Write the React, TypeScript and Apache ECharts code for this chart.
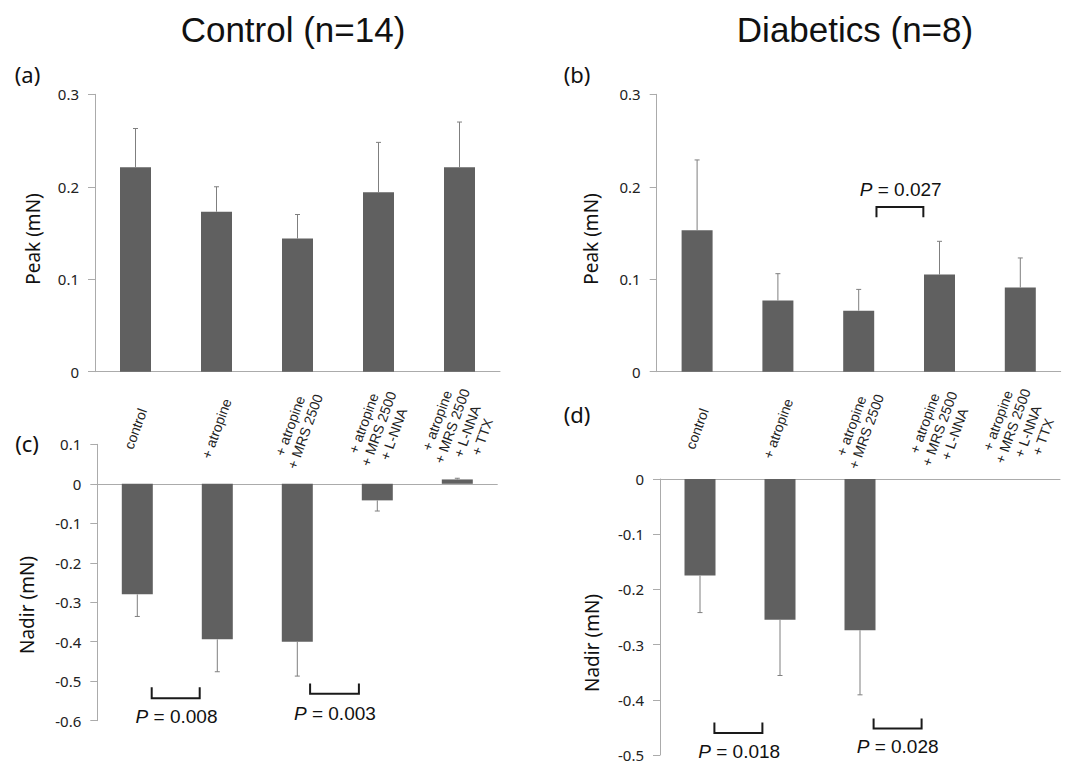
import React, { useEffect, useRef } from 'react';
import * as echarts from 'echarts';

// ---- data ----
const categories = [
  'control',
  '+ atropine',
  '+ atropine\n+ MRS 2500',
  '+ atropine\n+ MRS 2500\n+ L-NNA',
  '+ atropine\n+ MRS 2500\n+ L-NNA\n+ TTX',
];

const controlPeak = [0.221, 0.173, 0.144, 0.194, 0.221];
const controlPeakErr = [0.042, 0.027, 0.026, 0.054, 0.049];
const diabeticPeak = [0.153, 0.077, 0.066, 0.105, 0.091];
const diabeticPeakErr = [0.076, 0.029, 0.023, 0.036, 0.032];
const controlNadir = [-0.28, -0.394, -0.4, -0.042, 0.011];
const controlNadirErr = [0.056, 0.082, 0.087, 0.027, 0.003];
const diabeticNadir: (number | null)[] = [-0.175, -0.255, -0.274, null, null];
const diabeticNadirErr: (number | null)[] = [0.067, 0.101, 0.117, null, null];

const peakAxis = { min: 0, max: 0.3, interval: 0.1 };
const controlNadirAxis = { min: -0.6, max: 0.1, interval: 0.1 };
const diabeticNadirAxis = { min: -0.5, max: 0, interval: 0.1 };

// significance brackets: [anchor category, bracket line value, tip value, from offset, to offset, label offset, label value]
// offsets are in category-band units measured from the anchor category's centre
const diabeticPeakBrackets = [[2, 0.178, 0.167, 0.22, 0.8, 0.52, 0.1975]];
const diabeticPeakP = ['0.027'];
const controlNadirBrackets = [
  [0, -0.543, -0.515, 0.18, 0.78, 0.49, -0.589],
  [2, -0.532, -0.506, 0.16, 0.77, 0.47, -0.581],
];
const controlNadirP = ['0.008', '0.003'];
const diabeticNadirBrackets = [
  [0, -0.46, -0.441, 0.18, 0.78, 0.49, -0.494],
  [2, -0.452, -0.434, 0.17, 0.77, 0.47, -0.485],
];
const diabeticNadirP = ['0.018', '0.028'];

const BAR = '#606060';
const AXIS = '#ababab';
const ERR = '#7f7f7f';
const SANS = 'Noto Sans';
const ARIAL = 'Liberation Sans, Arial, sans-serif';

function errSeries(idx: number, means: (number | null)[], errs: (number | null)[]) {
  const data = means
    .map((m, i) => (m == null || errs[i] == null ? null : [i, m, errs[i]]))
    .filter((d) => d != null);
  return {
    type: 'custom',
    xAxisIndex: idx,
    yAxisIndex: idx,
    z: 5,
    encode: { x: 0, y: 1 },
    data,
    renderItem: (params: any, api: any) => {
      const i = api.value(0);
      const m = api.value(1);
      const e = api.value(2);
      const sign = m >= 0 ? 1 : -1;
      const p0 = api.coord([i, m]);
      const p1 = api.coord([i, m + sign * e]);
      const style = { stroke: ERR, lineWidth: 1 };
      return {
        type: 'group',
        children: [
          { type: 'line', shape: { x1: p0[0], y1: p0[1], x2: p1[0], y2: p1[1] }, style },
          { type: 'line', shape: { x1: p1[0] - 2.5, y1: p1[1], x2: p1[0] + 2.5, y2: p1[1] }, style },
        ],
      };
    },
  };
}

function bracketSeries(idx: number, brackets: number[][], pvals: string[]) {
  return {
    type: 'custom',
    xAxisIndex: idx,
    yAxisIndex: idx,
    z: 6,
    encode: { x: 0, y: 1 },
    data: brackets,
    renderItem: (params: any, api: any) => {
      const c = api.value(0);
      const yb = api.value(1);
      const yt = api.value(2);
      const f0 = api.value(3);
      const f1 = api.value(4);
      const lf = api.value(5);
      const ly = api.value(6);
      const bw = api.size([1, 0])[0];
      const pb = api.coord([c, yb]);
      const pt = api.coord([c, yt]);
      const pl = api.coord([c, ly]);
      const center = pb[0];
      const xa = center + f0 * bw;
      const xb = center + f1 * bw;
      const style = { stroke: '#1a1a1a', lineWidth: 2, fill: 'none' };
      return {
        type: 'group',
        children: [
          {
            type: 'polyline',
            shape: { points: [[xa, pt[1]], [xa, pb[1]], [xb, pb[1]], [xb, pt[1]]] },
            style,
          },
          {
            type: 'text',
            x: center + lf * bw,
            y: pl[1],
            style: {
              text: '{i|P} = ' + pvals[params.dataIndex],
              fill: '#111',
              fontFamily: ARIAL,
              fontSize: 19,
              align: 'center',
              verticalAlign: 'middle',
              rich: {
                i: { fontStyle: 'italic', fontFamily: ARIAL, fontSize: 19, fill: '#111' },
              },
            },
          },
        ],
      };
    },
  };
}

function barSeries(idx: number, data: (number | null)[]) {
  return {
    type: 'bar',
    xAxisIndex: idx,
    yAxisIndex: idx,
    barWidth: 31,
    data,
    itemStyle: { color: BAR },
    z: 2,
  };
}

function yAxis(grid: number, ax: { min: number; max: number; interval: number }) {
  return {
    type: 'value',
    gridIndex: grid,
    min: ax.min,
    max: ax.max,
    interval: ax.interval,
    axisLine: { show: true, lineStyle: { color: AXIS, width: 1 } },
    axisTick: { show: true, length: 7, lineStyle: { color: AXIS } },
    splitLine: { show: false },
    axisLabel: {
      color: '#222',
      fontFamily: SANS,
      fontSize: 15,
      lineHeight: 11,
      margin: 16,
      formatter: (v: number) => String(Math.round(v * 10) / 10),
    },
  };
}

function xAxis(grid: number, showLabels: boolean) {
  return {
    type: 'category',
    gridIndex: grid,
    data: categories,
    axisLine: { show: true, onZero: true, lineStyle: { color: AXIS, width: 1 } },
    axisTick: { show: false },
    axisLabel: showLabels
      ? {
          show: true,
          interval: 0,
          rotate: 70,
          align: 'center',
          verticalAlign: 'middle',
          margin: 57,
          color: '#222',
          fontFamily: ARIAL,
          fontSize: 14,
          lineHeight: 16,
        }
      : { show: false },
  };
}

function label(text: string, x: number, y: number, size: number, family: string, rotation = 0) {
  return {
    type: 'text',
    x,
    y,
    rotation,
    style: {
      text,
      fill: '#111',
      fontFamily: family,
      fontSize: size,
      align: 'center',
      verticalAlign: 'middle',
    },
  };
}

export default function App() {
  const ref = useRef<HTMLDivElement>(null);
  useEffect(() => {
    if (!ref.current) return;
    const chart = echarts.init(ref.current, null, { renderer: 'svg' });
    const option: any = {
      animation: false,
      backgroundColor: '#fff',
      grid: [
        { left: 95, top: 94.3, width: 405, height: 277.4, containLabel: false, outerBoundsMode: 'none' },
        { left: 656.7, top: 94.3, width: 404, height: 277.4, containLabel: false, outerBoundsMode: 'none' },
        { left: 97.3, top: 444.3, width: 400, height: 276.4, containLabel: false, outerBoundsMode: 'none' },
        { left: 660, top: 479, width: 400, height: 276, containLabel: false, outerBoundsMode: 'none' },
      ],
      xAxis: [xAxis(0, true), xAxis(1, true), xAxis(2, false), xAxis(3, false)],
      yAxis: [
        yAxis(0, peakAxis),
        yAxis(1, peakAxis),
        yAxis(2, controlNadirAxis),
        yAxis(3, diabeticNadirAxis),
      ],
      series: [
        barSeries(0, controlPeak),
        errSeries(0, controlPeak, controlPeakErr),
        barSeries(1, diabeticPeak),
        errSeries(1, diabeticPeak, diabeticPeakErr),
        bracketSeries(1, diabeticPeakBrackets, diabeticPeakP),
        barSeries(2, controlNadir),
        errSeries(2, controlNadir, controlNadirErr),
        bracketSeries(2, controlNadirBrackets, controlNadirP),
        barSeries(3, diabeticNadir),
        errSeries(3, diabeticNadir, diabeticNadirErr),
        bracketSeries(3, diabeticNadirBrackets, diabeticNadirP),
      ],
      graphic: [
        label('Control (n=14)', 293, 29, 35, ARIAL),
        label('Diabetics (n=8)', 855, 29, 35, ARIAL),
        label('(a)', 27.5, 74, 22, SANS),
        label('(b)', 577, 74, 22, SANS),
        label('(c)', 27, 443, 22, SANS),
        label('(d)', 577, 414, 22, SANS),
        label('Peak (mN)', 32.5, 239, 19, SANS, Math.PI / 2),
        label('Peak (mN)', 590.5, 239, 19, SANS, Math.PI / 2),
        label('Nadir (mN)', 26.7, 605, 19, SANS, Math.PI / 2),
        label('Nadir (mN)', 592, 643, 19, SANS, Math.PI / 2),
      ],
    };
    chart.setOption(option);
    return () => chart.dispose();
  }, []);
  return (
    <div
      ref={ref}
      style={{ position: 'fixed', left: 0, top: 0, width: 1070, height: 761, background: '#fff' }}
    />
  );
}
